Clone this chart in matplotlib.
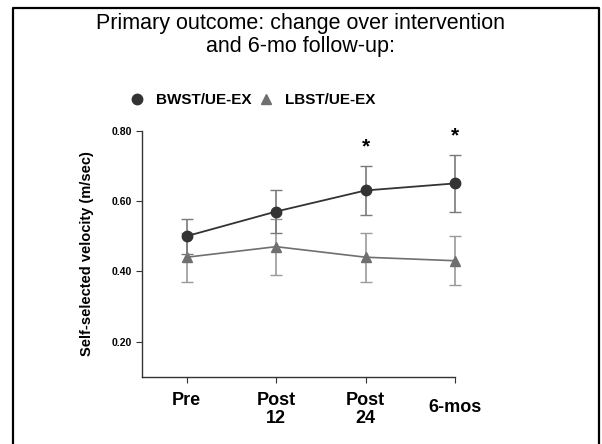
import matplotlib
matplotlib.use('Agg')
import matplotlib.pyplot as plt
from matplotlib.lines import Line2D
from matplotlib.transforms import ScaledTranslation

plt.rcParams['font.family'] = ['Liberation Sans', 'DejaVu Sans']

# data
timepoints = ['Pre', 'Post\n12', 'Post\n24', '6-mos']
bwst_mean = [0.50, 0.57, 0.63, 0.65]
bwst_lo = [0.05, 0.06, 0.07, 0.08]
bwst_hi = [0.05, 0.06, 0.07, 0.08]
lbst_mean = [0.44, 0.47, 0.44, 0.43]
lbst_err = [0.07, 0.08, 0.07, 0.07]
significant = [False, False, True, True]

dark = '#333333'
grey = '#6f6f6f'

fig = plt.figure(figsize=(6.02, 4.44), dpi=100)
ax = fig.add_axes([142/602, 1 - 376.7/444, 313/602, 246/444])

x = list(range(len(timepoints)))

lb = ax.errorbar(x, lbst_mean, yerr=lbst_err, color=grey, ecolor='#9a9a9a',
                 elinewidth=1.2, capsize=4, capthick=1, marker='^', markersize=7.5,
                 linewidth=1.2, zorder=2)
bw = ax.errorbar(x, bwst_mean, yerr=[bwst_lo, bwst_hi], color=dark, ecolor='#7a7a7a',
                 elinewidth=1.2, capsize=4, capthick=1, marker='o', markersize=7.5,
                 linewidth=1.3, zorder=3)
for container in (lb, bw):
    for artist in container.get_children():
        artist.set_clip_on(False)

# asterisks for significant time points
for xi, m, h, s in zip(x, bwst_mean, bwst_hi, significant):
    if s:
        ax.annotate('*', (xi, m + h), xytext=(0, 7), textcoords='offset points',
                    ha='center', va='bottom', fontsize=15, fontweight='bold')

ax.set_xlim(-0.5, 3.0)
ax.set_ylim(0.10, 0.80)
ax.set_yticks([0.20, 0.40, 0.60, 0.80])
ax.set_yticklabels(['0.20', '0.40', '0.60', '0.80'], fontsize=7.5, fontweight='bold')
ax.set_xticks(x)
ax.set_xticklabels(timepoints, fontsize=13, fontweight='bold', linespacing=1.05)
ax.tick_params(axis='x', length=4, width=0.8, color=dark, pad=7)
ax.tick_params(axis='y', length=4, width=0.8, color=dark, pad=3)
lab = ax.get_xticklabels()[-1]
lab.set_transform(lab.get_transform() + ScaledTranslation(0, -5/72, fig.dpi_scale_trans))

for side in ['top', 'right']:
    ax.spines[side].set_visible(False)
for side in ['left', 'bottom']:
    ax.spines[side].set_color(dark)
    ax.spines[side].set_linewidth(1.0)

ax.set_ylabel('Self-selected velocity (m/sec)', fontsize=10.5, fontweight='bold', labelpad=13)

fig.text(0.5, 1 - 35/444, 'Primary outcome: change over intervention\nand 6-mo follow-up:',
         ha='center', va='center', fontsize=15.5, linespacing=1.15)

handles = [Line2D([], [], linestyle='none', marker='o', color=dark, markersize=7.5),
           Line2D([], [], linestyle='none', marker='^', color=grey, markersize=7.5)]
fig.legend(handles, ['BWST/UE-EX', 'LBST/UE-EX'], loc='center', ncol=2,
           bbox_to_anchor=(0.4186, 1 - 100/444), frameon=False,
           prop={'size': 11, 'weight': 'bold'}, handlelength=1.0,
           handletextpad=0.75, columnspacing=0.45)

# slide border (open at the bottom)
fig.add_artist(Line2D([13/602, 13/602, 599/602, 599/602], [0, 1 - 8/444, 1 - 8/444, 0],
                      transform=fig.transFigure, color='black', linewidth=1.6))

fig.savefig('out.png', dpi=100)
